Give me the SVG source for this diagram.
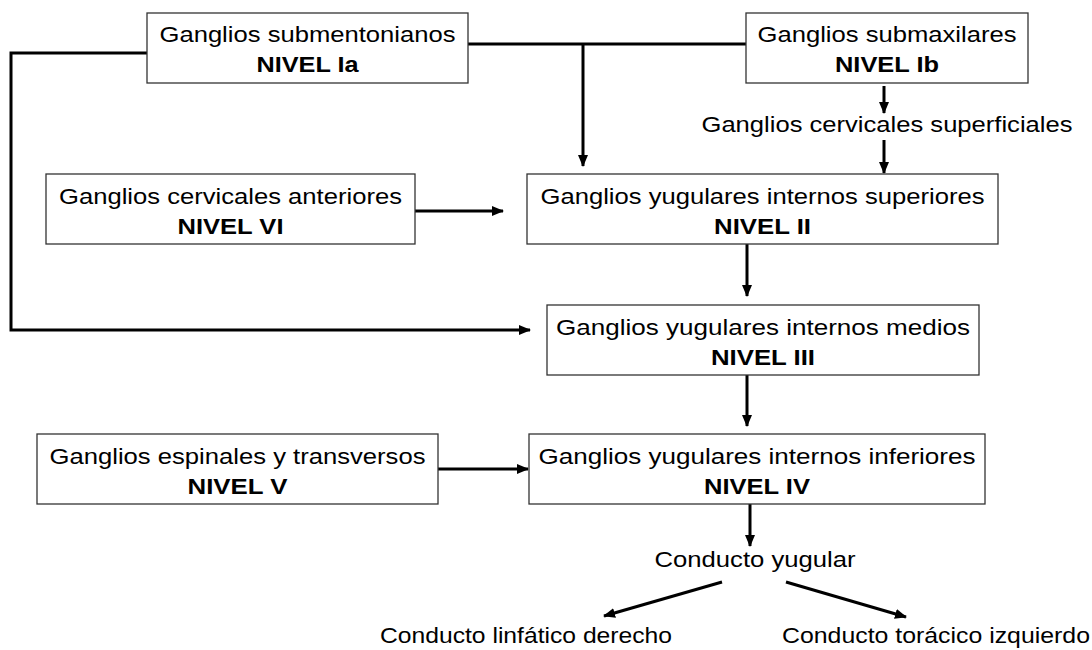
<svg xmlns="http://www.w3.org/2000/svg" width="1092" height="650" viewBox="0 0 1092 650">
<defs>
<marker id="ah" markerUnits="userSpaceOnUse" markerWidth="12" markerHeight="10" refX="11" refY="5" orient="auto">
<path d="M0,0 L12,5 L0,10 z" fill="#000"/>
</marker>
<style>
.box{fill:#fff;stroke:#333;stroke-width:1.3}
.t{font-family:"Liberation Sans",Arial,sans-serif;font-size:22px;fill:#000;text-anchor:middle}
.b{font-weight:bold}
.c{fill:none;stroke:#000;stroke-width:3}
.a{marker-end:url(#ah)}
</style>
</defs>
<rect width="1092" height="650" fill="#fff"/>
<g id="connectors">
<path class="c a" d="M147,53 H11 V330 H530"/>
<path class="c" d="M468,44 H746"/>
<path class="c a" d="M583,44 V166"/>
<path class="c a" d="M884,86 V113"/>
<path class="c a" d="M884,140 V173"/>
<path class="c a" d="M415,211 H503"/>
<path class="c a" d="M747,244 V296"/>
<path class="c a" d="M747,375 V426"/>
<path class="c a" d="M438,469 H528"/>
<path class="c a" d="M750,504 V546"/>
<path class="c a" d="M722,582 L604,616"/>
<path class="c a" d="M786,582 L906,617"/>
</g>
<g id="n-ia">
<rect class="box" x="147" y="13" width="321" height="70"/>
<text class="t" x="307.5" y="42" textLength="296" lengthAdjust="spacingAndGlyphs">Ganglios submentonianos</text>
<text class="t b" x="307.5" y="72" textLength="102" lengthAdjust="spacingAndGlyphs">NIVEL Ia</text>
</g>
<g id="n-ib">
<rect class="box" x="746" y="13" width="282" height="70"/>
<text class="t" x="887" y="42" textLength="259" lengthAdjust="spacingAndGlyphs">Ganglios submaxilares</text>
<text class="t b" x="887" y="72" textLength="104" lengthAdjust="spacingAndGlyphs">NIVEL Ib</text>
</g>
<g id="n-sup">
<text class="t" x="887" y="132" textLength="371" lengthAdjust="spacingAndGlyphs">Ganglios cervicales superficiales</text>
</g>
<g id="n-vi">
<rect class="box" x="46" y="174" width="369" height="70"/>
<text class="t" x="230.5" y="204" textLength="343" lengthAdjust="spacingAndGlyphs">Ganglios cervicales anteriores</text>
<text class="t b" x="230.5" y="234" textLength="106" lengthAdjust="spacingAndGlyphs">NIVEL VI</text>
</g>
<g id="n-ii">
<rect class="box" x="527" y="174" width="471" height="70"/>
<text class="t" x="762.5" y="204" textLength="444" lengthAdjust="spacingAndGlyphs">Ganglios yugulares internos superiores</text>
<text class="t b" x="762.5" y="234" textLength="97" lengthAdjust="spacingAndGlyphs">NIVEL II</text>
</g>
<g id="n-iii">
<rect class="box" x="547" y="305" width="432" height="70"/>
<text class="t" x="763" y="335" textLength="414" lengthAdjust="spacingAndGlyphs">Ganglios yugulares internos medios</text>
<text class="t b" x="763" y="365" textLength="104" lengthAdjust="spacingAndGlyphs">NIVEL III</text>
</g>
<g id="n-v">
<rect class="box" x="37" y="434" width="401" height="70"/>
<text class="t" x="237.5" y="464" textLength="376" lengthAdjust="spacingAndGlyphs">Ganglios espinales y transversos</text>
<text class="t b" x="237.5" y="494" textLength="100" lengthAdjust="spacingAndGlyphs">NIVEL V</text>
</g>
<g id="n-iv">
<rect class="box" x="529" y="434" width="456" height="70"/>
<text class="t" x="757" y="464" textLength="437" lengthAdjust="spacingAndGlyphs">Ganglios yugulares internos inferiores</text>
<text class="t b" x="757" y="494" textLength="106" lengthAdjust="spacingAndGlyphs">NIVEL IV</text>
</g>
<g id="n-yug">
<text class="t" x="755" y="567" textLength="201" lengthAdjust="spacingAndGlyphs">Conducto yugular</text>
</g>
<g id="n-der">
<text class="t" x="526" y="643" textLength="292" lengthAdjust="spacingAndGlyphs">Conducto linfático derecho</text>
</g>
<g id="n-izq">
<text class="t" x="936" y="643" textLength="308" lengthAdjust="spacingAndGlyphs">Conducto torácico izquierdo</text>
</g>
</svg>
